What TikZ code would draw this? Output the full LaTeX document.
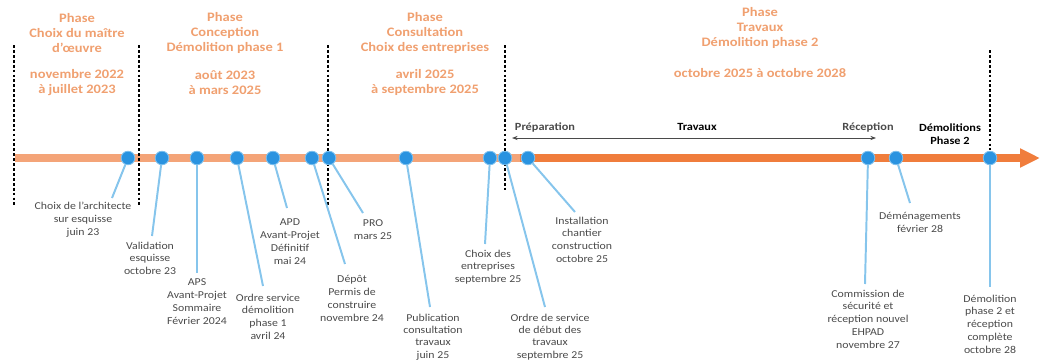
\documentclass[tikz,border=0pt]{standalone}
\usepackage{fontspec}
\setmainfont{Carlito}[FakeStretch=1.12]
\usetikzlibrary{arrows.meta}
\definecolor{jalon}{HTML}{2A93E0}
\definecolor{jalonbord}{HTML}{7CC0EE}
\definecolor{trait}{HTML}{86C5EC}
\definecolor{frise}{HTML}{F07D3C}
\definecolor{friseclair}{HTML}{F4A478}
\definecolor{phase}{HTML}{F0A070}
\definecolor{gristexte}{HTML}{4A4A4A}

\begin{document}
\begin{tikzpicture}[x=0.025cm,y=-0.025cm]

\tikzstyle{ms} = [circle, fill=jalon, draw=jalonbord, line width=0.6pt, minimum size=0.34cm, inner sep=0pt]
\tikzstyle{lbl} = [align=center, anchor=north, text=gristexte, font=\fontsize{7.5}{9.2}\selectfont, inner sep=1pt]
\tikzstyle{lblbas} = [lbl, font=\fontsize{7.5}{8.8}\selectfont]
\tikzstyle{ph} = [align=center, text=phase, font=\bfseries\fontsize{9.2}{11}\selectfont]
\tikzstyle{haut} = [font=\bfseries\fontsize{7.8}{9.5}\selectfont, align=center]
\tikzstyle{leader} = [draw=trait, line width=1.4pt]
\tikzstyle{sep} = [draw=black, line width=0.8pt, dash pattern=on 2pt off 1.5pt]

\useasboundingbox (0,0) rectangle (1040,363);

% frise
\coordinate (debut) at (15,158);
\coordinate (milieu) at (520,158);
\coordinate (fin) at (1040,158);
\draw[friseclair, line width=5.5pt] (debut) -- (milieu);
\draw[frise, line width=5.5pt, -{Triangle[length=0.5cm, width=0.45cm]}] (milieu) -- (fin);

% separations
\coordinate (s1a) at (14,45);  \coordinate (s1b) at (14,205);
\coordinate (s2a) at (139,45); \coordinate (s2b) at (139,205);
\coordinate (s3a) at (328,45); \coordinate (s3b) at (328,205);
\coordinate (s4a) at (505,45); \coordinate (s4b) at (505,190);
\coordinate (s5a) at (990,50); \coordinate (s5b) at (990,150);
\draw[sep] (s1a) -- (s1b);
\draw[sep] (s2a) -- (s2b);
\draw[sep] (s3a) -- (s3b);
\draw[sep] (s4a) -- (s4b);
\draw[sep] (s5a) -- (s5b);

% phases
\node (ph1) [ph] at (77,33) {Phase\\Choix du maître\\d’œuvre};
\node (ph1d) [ph] at (77,82.5) {novembre 2022\\à juillet 2023};
\node (ph2) [ph] at (225,33) {Phase\\Conception\\Démolition phase 1};
\node (ph2d) [ph] at (225,82.5) {août 2023\\à mars 2025};
\node (ph3) [ph] at (425,33) {Phase\\Consultation\\Choix des entreprises};
\node (ph3d) [ph] at (425,82.5) {avril 2025\\à septembre 2025};
\node (ph4) [ph] at (760,28) {Phase\\Travaux\\Démolition phase 2};
\node (ph4d) [ph] at (760,73) {octobre 2025 à octobre 2028};

% periode travaux
\node (prep) [haut, text=gristexte] at (545,128) {Préparation};
\node (trav) [haut] at (697,127) {Travaux};
\node (recep) [haut, text=gristexte] at (868,128) {Réception};
\node (demo2) [haut] at (950,134) {Démolitions\\Phase 2};
\coordinate (pa) at (512,138);
\coordinate (pb) at (876,138);
\draw[gristexte, line width=0.6pt, {Stealth[length=4pt]}-{Stealth[length=4pt]}] (pa) -- (pb);

% jalons
\node (m1) [ms] at (128,158) {};
\node (m2) [ms] at (162,158) {};
\node (m3) [ms] at (197,158) {};
\node (m4) [ms] at (237,158) {};
\node (m5) [ms] at (273,158) {};
\node (m6) [ms] at (312,158) {};
\node (m7) [ms] at (329,158) {};
\node (m8) [ms] at (406,158) {};
\node (m9) [ms] at (490,158) {};
\node (m10) [ms] at (505,158) {};
\node (m11) [ms] at (528,158) {};
\node (m12) [ms] at (868,158) {};
\node (m13) [ms] at (896,158) {};
\node (m14) [ms] at (990,158) {};

% libelles
\node (l1) [lbl] at (83,200) {Choix de l’architecte\\sur esquisse\\juin 23};
\node (l2) [lbl] at (150,240) {Validation\\esquisse\\octobre 23};
\node (l3) [lbl] at (197,277) {APS\\Avant-Projet\\Sommaire\\Février 2024};
\node (l4) [lbl] at (268,292) {Ordre service\\démolition\\phase 1\\avril 24};
\node (l5) [lbl] at (290,217) {APD\\Avant-Projet\\Définitif\\mai 24};
\node (l6) [lbl] at (352,274) {Dépôt\\Permis de\\construire\\novembre 24};
\node (l7) [lbl] at (373,218) {PRO\\mars 25};
\node (l8) [lblbas] at (433,312) {Publication\\consultation\\travaux\\juin 25};
\node (l9) [lbl] at (488,248) {Choix des\\entreprises\\septembre 25};
\node (l10) [lblbas] at (550,312) {Ordre de service\\de début des\\travaux\\septembre 25};
\node (l11) [lbl] at (582,215) {Installation\\chantier\\construction\\octobre 25};
\node (l12) [lbl] at (868,288) {Commission de\\sécurité et\\réception nouvel\\EHPAD\\novembre 27};
\node (l13) [lbl] at (920,211) {Déménagements\\février 28};
\node (l14) [lbl] at (990,293) {Démolition\\phase 2 et\\réception\\complète\\octobre 28};

% traits
\coordinate (e1) at (112,198);
\coordinate (e2) at (152,236);
\coordinate (e3) at (197,273);
\coordinate (e4) at (263,286);
\coordinate (e5) at (287,208);
\coordinate (e6) at (345,264);
\coordinate (e7) at (363,213);
\coordinate (e8) at (430,307);
\coordinate (e9) at (485,244);
\coordinate (e10) at (545,307);
\coordinate (e11) at (575,212);
\coordinate (e12) at (865,284);
\coordinate (e13) at (910,203);
\coordinate (e14) at (990,287);
\draw[leader] (m1) -- (e1);
\draw[leader] (m2) -- (e2);
\draw[leader] (m3) -- (e3);
\draw[leader] (m4) -- (e4);
\draw[leader] (m5) -- (e5);
\draw[leader] (m6) -- (e6);
\draw[leader] (m7) -- (e7);
\draw[leader] (m8) -- (e8);
\draw[leader] (m9) -- (e9);
\draw[leader] (m10) -- (e10);
\draw[leader] (m11) -- (e11);
\draw[leader] (m12) -- (e12);
\draw[leader] (m13) -- (e13);
\draw[leader] (m14) -- (e14);
\end{tikzpicture}
\end{document}
